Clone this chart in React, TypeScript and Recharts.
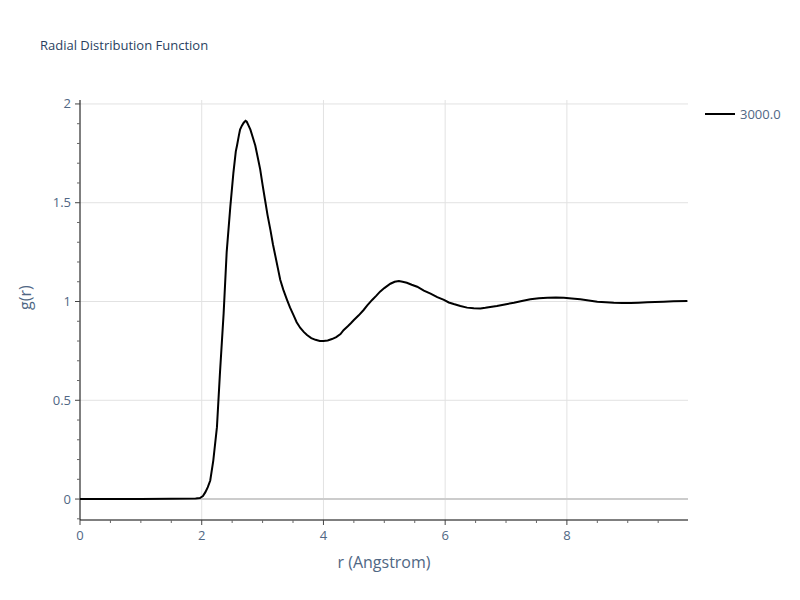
import { LineChart, Line, XAxis, YAxis, CartesianGrid, ReferenceLine } from 'recharts'

const rValues = [
  0, 0.5, 1.0, 1.5, 1.9, 1.97, 2.02, 2.06, 2.1, 2.14, 2.19, 2.25, 2.3, 2.36, 2.41, 2.47, 2.52, 2.56, 2.58, 2.61,
  2.63, 2.66, 2.69, 2.72, 2.74, 2.77, 2.8, 2.84, 2.88, 2.92, 2.96, 3.0, 3.04, 3.08, 3.13, 3.17, 3.21, 3.25, 3.29,
  3.34, 3.4, 3.45, 3.51, 3.56, 3.62, 3.68, 3.73, 3.8, 3.87, 3.94, 4.0, 4.07, 4.14, 4.21, 4.28, 4.33, 4.4, 4.45,
  4.5, 4.58, 4.66, 4.72, 4.8, 4.87, 4.93, 5.0, 5.1, 5.17, 5.24, 5.3, 5.37, 5.45, 5.54, 5.65, 5.76, 5.87, 5.98,
  6.06, 6.14, 6.25, 6.36, 6.47, 6.58, 6.66, 6.74, 6.85, 6.98, 7.13, 7.26, 7.4, 7.54, 7.68, 7.82, 7.95, 8.08, 8.22,
  8.36, 8.5, 8.64, 8.77, 8.91, 9.05, 9.18, 9.32, 9.45, 9.59, 9.75, 9.98,
]

const gValues = [
  0, 0, 0, 0.002, 0.003, 0.005, 0.015, 0.035, 0.06, 0.094, 0.195, 0.364, 0.64, 0.94, 1.25, 1.48, 1.65, 1.76, 1.79, 1.84,
  1.87, 1.89, 1.905, 1.915, 1.91, 1.89, 1.87, 1.83, 1.79, 1.73, 1.67, 1.59, 1.515, 1.44, 1.36, 1.29, 1.23, 1.17, 1.11,
  1.06, 1.01, 0.97, 0.93, 0.895, 0.866, 0.845, 0.83, 0.815, 0.806, 0.8, 0.8, 0.803, 0.81, 0.82, 0.835, 0.855, 0.875, 0.89,
  0.906, 0.93, 0.957, 0.98, 1.008, 1.03, 1.05, 1.068, 1.09, 1.1, 1.104, 1.1, 1.095, 1.085, 1.075, 1.055, 1.04, 1.022, 1.008,
  0.995, 0.987, 0.977, 0.969, 0.966, 0.965, 0.968, 0.972, 0.977, 0.985, 0.994, 1.003, 1.011, 1.016, 1.019, 1.02, 1.019, 1.015, 1.011,
  1.005, 0.999, 0.996, 0.994, 0.993, 0.992, 0.994, 0.996, 0.997, 0.999, 1.001, 1.002,
]

const xMajorTicks = [0, 2, 4, 6, 8]
const xMinorTicks = [0, 0.5, 1, 1.5, 2, 2.5, 3, 3.5, 4, 4.5, 5, 5.5, 6, 6.5, 7, 7.5, 8, 8.5, 9, 9.5]
const yMajorTicks = [0, 0.5, 1, 1.5, 2]
const yMinorTicks = [-0.1, 0, 0.1, 0.2, 0.3, 0.4, 0.5, 0.6, 0.7, 0.8, 0.9, 1, 1.1, 1.2, 1.3, 1.4, 1.5, 1.6, 1.7, 1.8, 1.9, 2]

const seriesName = '3000.0'
const data = rValues.map((r, i) => ({ r, g: gValues[i] }))

const FONT = '"Open Sans", verdana, arial, sans-serif'
const TEXT = '#506784'

const isMajor = (v: number, majors: number[]) => majors.some((m) => Math.abs(m - v) < 1e-6)

function XTick({ x, y, payload }: any) {
  const major = isMajor(payload.value, xMajorTicks)
  return (
    <g>
      <line x1={x} x2={x} y1={y} y2={y + (major ? 5 : 3)} stroke={major ? '#444' : '#666'} />
      {major && (
        <text x={x} y={y + 20} textAnchor="middle" fontSize={13} fill={TEXT} fontFamily={FONT}>
          {payload.value}
        </text>
      )}
    </g>
  )
}

function YTick({ x, y, payload }: any) {
  const major = isMajor(payload.value, yMajorTicks)
  return (
    <g>
      <line x1={x} x2={x - (major ? 5 : 3)} y1={y} y2={y} stroke={major ? '#444' : '#666'} />
      {major && (
        <text x={x - 9} y={y + 4.5} textAnchor="end" fontSize={13} fill={TEXT} fontFamily={FONT}>
          {payload.value}
        </text>
      )}
    </g>
  )
}

export default function App() {
  return (
    <div style={{ position: 'absolute', left: 0, top: 0, width: 800, height: 600, background: '#fff' }}>
      <div style={{ position: 'absolute', left: 40, top: 36, fontFamily: FONT, fontSize: 13, color: '#2a3f5f' }}>
        Radial Distribution Function
      </div>
      <div style={{ position: 'absolute', left: 705, top: 104, display: 'flex', alignItems: 'center' }}>
        <svg width={100} height={20} style={{ display: 'block' }}>
          <line x1={0} x2={30} y1={10} y2={10} stroke="#000" strokeWidth={2} />
          <text x={35} y={14.5} fontSize={13} fill={TEXT} fontFamily={FONT}>
            {seriesName}
          </text>
        </svg>
      </div>
      <LineChart width={800} height={600} data={data} margin={{ top: 100, right: 112, bottom: 50, left: 40 }}>
        <CartesianGrid
          stroke="#e2e2e2"
          strokeWidth={1}
          horizontalValues={[0.5, 1, 1.5, 2]}
          verticalValues={[2, 4, 6, 8]}
        />
        <XAxis
          dataKey="r"
          type="number"
          domain={[0, 9.99]}
          ticks={xMinorTicks}
          interval={0}
          allowDataOverflow
          height={30}
          tickLine={false}
          tickSize={0}
          tickMargin={0}
          axisLine={{ stroke: '#000', strokeWidth: 1 }}
          tick={<XTick />}
          label={{ value: 'r (Angstrom)', position: 'insideBottom', offset: -18, fontSize: 16, fill: TEXT, fontFamily: FONT }}
        />
        <YAxis
          type="number"
          domain={[-0.106, 2.02]}
          ticks={yMinorTicks}
          interval={0}
          allowDataOverflow
          width={40}
          tickLine={false}
          tickSize={0}
          tickMargin={0}
          axisLine={{ stroke: '#000', strokeWidth: 1 }}
          tick={<YTick />}
          label={{ value: 'g(r)', angle: -90, position: 'insideLeft', offset: -15, fontSize: 16, fill: TEXT, fontFamily: FONT }}
        />
        <ReferenceLine y={0} stroke="#cccccc" strokeWidth={2} />
        <Line
          type="linear"
          dataKey="g"
          name={seriesName}
          stroke="#000"
          strokeWidth={2}
          dot={false}
          isAnimationActive={false}
        />
      </LineChart>
    </div>
  )
}
